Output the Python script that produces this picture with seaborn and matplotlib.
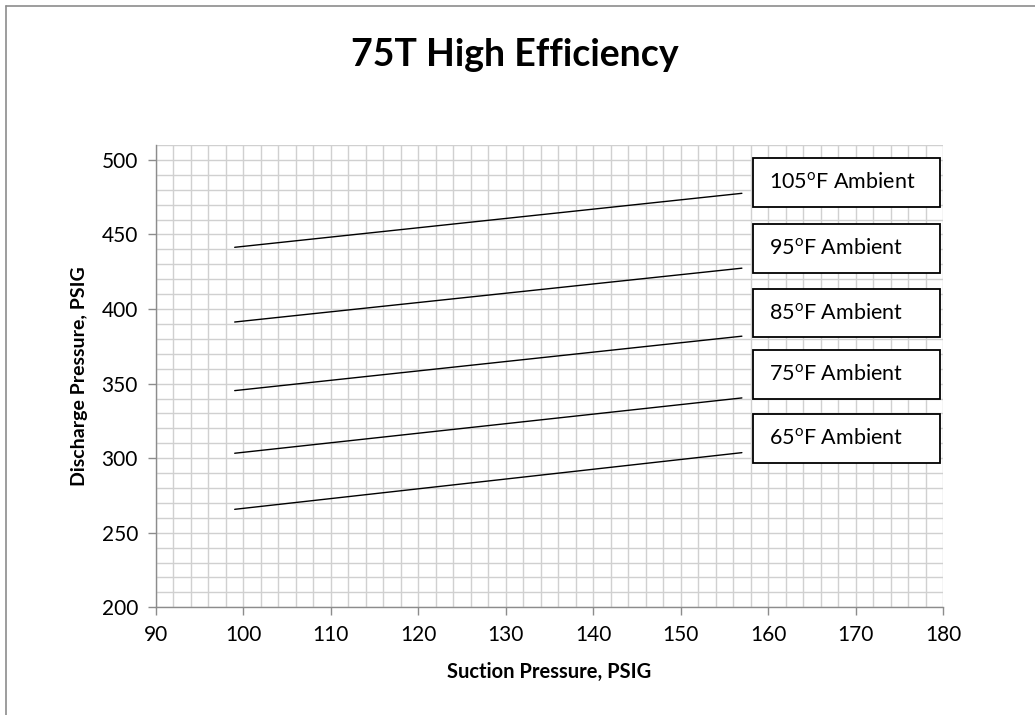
import matplotlib
matplotlib.use("Agg")
import matplotlib.pyplot as plt
import seaborn as sns
import pandas as pd
import numpy as np
from matplotlib.patches import Rectangle
from matplotlib.lines import Line2D
from matplotlib.ticker import MultipleLocator

# ---- data ----
suction = [99, 157]
d105 = [441.4, 477.6]
d95 = [391.3, 427.4]
d85 = [345.3, 381.8]
d75 = [303.3, 340.4]
d65 = [265.7, 303.7]
labels = ["105", "95", "85", "75", "65"]
series = [d105, d95, d85, d75, d65]
x_ticks = [90, 100, 110, 120, 130, 140, 150, 160, 170, 180]
y_ticks = [200, 250, 300, 350, 400, 450, 500]

rows = []
for lab, vals in zip(labels, series):
    for x, y in zip(suction, vals):
        rows.append({"suction": x, "discharge": y, "ambient": lab})
df = pd.DataFrame(rows)

sns.set_theme(style="white")
FONT = ["Lato", "DejaVu Sans"]
plt.rcParams["font.family"] = FONT
plt.rcParams["mathtext.fontset"] = "custom"
plt.rcParams["mathtext.rm"] = "Lato"
plt.rcParams["text.color"] = "black"
plt.rcParams["axes.labelcolor"] = "black"

W, H = 1035, 715
fig = plt.figure(figsize=(W / 100, H / 100), dpi=100)
fig.patch.set_facecolor("white")

def fx(px):
    return px / W

def fy(py):
    return 1 - py / H

ax = fig.add_axes([fx(156), fy(607.3), fx(943) - fx(156), fy(145) - fy(607.3)])

sns.lineplot(data=df, x="suction", y="discharge", hue="ambient",
             palette=["black"] * 5, legend=False, ax=ax, linewidth=1.0,
             zorder=3)

ax.set_xlim(90, 180)
ax.set_ylim(200, 510)
ax.set_xticks(x_ticks)
ax.set_yticks(y_ticks)
ax.xaxis.set_minor_locator(MultipleLocator(2))
ax.yaxis.set_minor_locator(MultipleLocator(10))
ax.grid(True, which="both", color="#d0d0d0", linewidth=1.0)
ax.set_axisbelow(True)
for s in ["top", "right"]:
    ax.spines[s].set_visible(False)
for s in ["left", "bottom"]:
    ax.spines[s].set_color("#8c8c8c")
    ax.spines[s].set_linewidth(1.0)
ax.tick_params(axis="both", which="major", direction="out", length=6,
               width=1.0, color="#8c8c8c", labelsize=15, labelcolor="black",
               pad=7)
ax.tick_params(axis="both", which="minor", length=0)
ax.tick_params(axis="x", bottom=True)
ax.tick_params(axis="y", left=True)

ax.set_xlabel("Suction Pressure, PSIG", fontsize=14.5, fontweight="bold", labelpad=12)
ax.set_ylabel("Discharge Pressure, PSIG", fontsize=14, fontweight="bold", labelpad=10)

fig.text(fx(515), fy(55), "75T High Efficiency", fontsize=27, fontweight="bold",
         ha="center", va="center")

# label boxes
boxes = [(158, 207), (224, 273), (289, 337), (350, 399), (414, 463)]
for lab, (t, b) in zip(labels, boxes):
    rect = Rectangle((fx(753), fy(b)), fx(940) - fx(753), fy(t) - fy(b),
                     transform=fig.transFigure, facecolor="white",
                     edgecolor="black", linewidth=1.3, zorder=5)
    fig.add_artist(rect)
    fig.text(fx(769), fy((t + b) / 2), lab + r"$^{\mathrm{o}}$F Ambient",
             fontsize=15.5, ha="left", va="center", zorder=6)

# figure border (left and top only)
fig.add_artist(Line2D([fx(5.5), fx(5.5)], [0, fy(6)], transform=fig.transFigure,
                      color="#8c8c8c", linewidth=1.2))
fig.add_artist(Line2D([fx(5.5), 1], [fy(6), fy(6)], transform=fig.transFigure,
                      color="#8c8c8c", linewidth=1.2))

fig.savefig("out.png", dpi=100)
